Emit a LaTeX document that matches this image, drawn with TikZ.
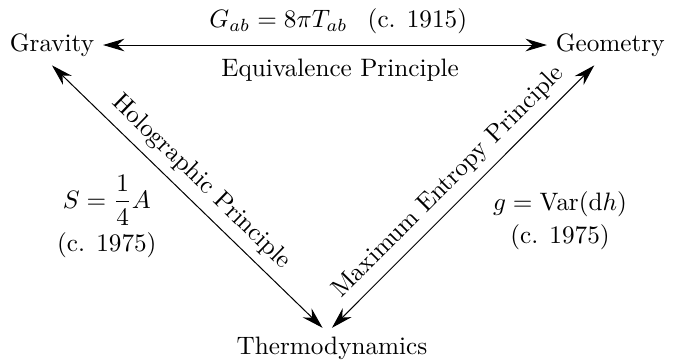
\documentclass[tikz,border=0pt]{standalone}
\usepackage{amsmath}
\usetikzlibrary{arrows.meta,positioning,calc}

\begin{document}
\begin{tikzpicture}[
    concept/.style={inner sep=3.33pt},
    arr/.style={{Stealth[length=8.5pt,width=5pt]}-{Stealth[length=8.5pt,width=5pt]}, thin},
    lbl/.style={align=center}]
    \useasboundingbox (0,0) rectangle (9.456,-5.049);

    % ── corners ──────────────────────────────────────────────
    \node[concept] (grav) at (0.725,-0.628) {Gravity};
    \node[concept] (geom) at (8.51,-0.628) {Geometry};
    \node[concept] (thermo) at (4.63,-4.854) {Thermodynamics};

    % ── links ────────────────────────────────────────────────
    \draw[arr] (grav) -- (geom)
      node[pos=0.53, above=1pt] (einst) {$G_{ab}=8\pi T_{ab}$\hspace{0.8em}(c. 1915)}
      node[pos=0.534, below=2pt] (equiv) {Equivalence Principle};
    \draw[arr] (grav.south) -- (thermo.115)
      node[midway, above, sloped] (holo) {Holographic Principle};
    \draw[arr] (thermo.north) -- (geom.232)
      node[midway, above, sloped] (maxent) {Maximum Entropy Principle};

    % ── annotations ──────────────────────────────────────────
    \node[lbl] (bh) at (1.49,-3.02) {$S=\dfrac{1}{4}A$\\[2pt](c. 1975)};
    \node[lbl] (fisher) at (7.81,-3.08) {$g=\mathrm{Var}(\mathrm{d}h)$\\[1pt](c. 1975)};
\end{tikzpicture}
\end{document}
